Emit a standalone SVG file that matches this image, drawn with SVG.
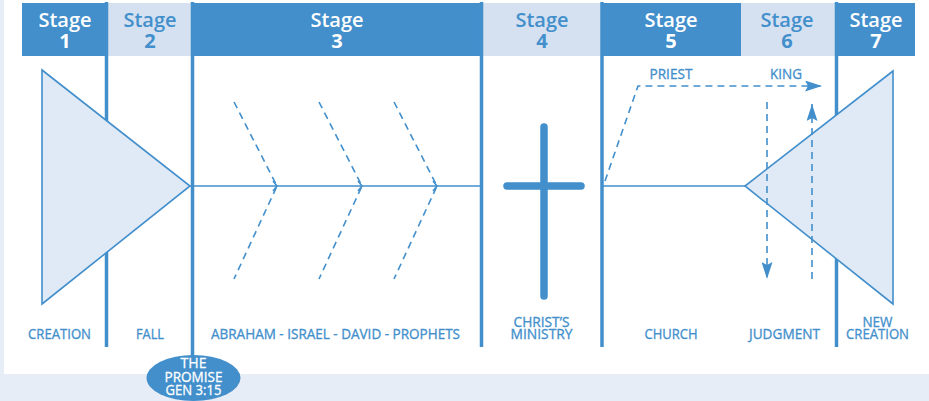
<svg xmlns="http://www.w3.org/2000/svg" width="929" height="401" viewBox="0 0 929 401">
<defs>
<style>
.dark{fill:#428fcc}
.light{fill:#d5e1f1}
.vl{stroke:#428fcc;stroke-width:3.5;fill:none}
.ln{stroke:#428fcc;stroke-width:1.6;fill:none}
.dash{stroke:#428fcc;stroke-width:1.6;fill:none;stroke-dasharray:7 5}
.tri{fill:#e0e9f6;stroke:#428fcc;stroke-width:1.6}
.hw{font-family:"Open Sans","Noto Sans","DejaVu Sans",sans-serif;font-weight:600;font-size:20px;fill:#ffffff;text-anchor:middle}
.hb{font-family:"Open Sans","Noto Sans","DejaVu Sans",sans-serif;font-weight:600;font-size:20px;fill:#428fcc;text-anchor:middle}
.num{font-weight:700}
.lab{font-family:"Open Sans","Noto Sans","DejaVu Sans",sans-serif;font-size:15px;fill:#428fcc;stroke:#428fcc;stroke-width:0.35;text-anchor:middle}
.ew{font-family:"Open Sans","Noto Sans","DejaVu Sans",sans-serif;font-size:15px;fill:#ffffff;stroke:#ffffff;stroke-width:0.3;text-anchor:middle}
</style>
<marker id="ah" viewBox="0 0 17 11" refX="17" refY="5.5" markerWidth="17" markerHeight="11" markerUnits="userSpaceOnUse" orient="auto">
<path d="M0,0 L17,5.5 L0,11 L3,5.5 Z" fill="#428fcc"/>
</marker>
</defs>
<rect x="0" y="0" width="929" height="401" fill="#e6edf7"/>
<rect x="4" y="0" width="925" height="374" fill="#ffffff"/>

<g id="headers">
<rect class="dark" x="22" y="3" width="85" height="53"/>
<rect class="light" x="107" y="3" width="85" height="53"/>
<rect class="dark" x="192" y="3" width="290" height="53"/>
<rect class="light" x="482" y="3" width="120" height="53"/>
<rect class="dark" x="602" y="3" width="139" height="53"/>
<rect class="light" x="741" y="3" width="96" height="53"/>
<rect class="dark" x="837" y="3" width="78" height="53"/>
</g>

<g id="stage-labels">
<text class="hw" x="65" y="27">Stage</text><text class="hw num" x="65" y="48">1</text>
<text class="hb" x="150" y="27">Stage</text><text class="hb num" x="150" y="48">2</text>
<text class="hw" x="337" y="27">Stage</text><text class="hw num" x="337" y="48">3</text>
<text class="hb" x="542" y="27">Stage</text><text class="hb num" x="542" y="48">4</text>
<text class="hw" x="671" y="27">Stage</text><text class="hw num" x="671" y="48">5</text>
<text class="hb" x="787" y="27">Stage</text><text class="hb num" x="787" y="48">6</text>
<text class="hw" x="876" y="27">Stage</text><text class="hw num" x="876" y="48">7</text>
</g>

<g id="dividers">
<line class="vl" x1="106.5" y1="2" x2="106.5" y2="347"/>
<line class="vl" x1="192.5" y1="2" x2="192.5" y2="360"/>
<line class="vl" x1="481.5" y1="2" x2="481.5" y2="347"/>
<line class="vl" x1="602" y1="2" x2="602" y2="347"/>
<line class="vl" x1="836.5" y1="2" x2="836.5" y2="347"/>
</g>

<g id="creation">
<polygon class="tri" points="42,70 190,186 42,304"/>
</g>

<g id="new-creation">
<polygon class="tri" points="893,71 745,186 893,304"/>
</g>

<g id="connectors">
<line class="ln" x1="190" y1="186" x2="481" y2="186"/>
<line class="ln" x1="602" y1="186" x2="745" y2="186"/>
<polyline class="dash" points="234,102 277,186 234,279"/>
<polyline class="dash" points="319,102 362,186 319,279"/>
<polyline class="dash" points="394,102 437,186 394,279"/>
<polyline class="ln" points="273,181 277,186 273,191"/>
<polyline class="ln" points="358,181 362,186 358,191"/>
<polyline class="ln" points="433,181 437,186 433,191"/>
<path class="dash" d="M605,181 L638,86 L822,86" marker-end="url(#ah)"/>
<line class="dash" x1="767" y1="102" x2="767" y2="279" marker-end="url(#ah)"/>
<line class="dash" x1="812" y1="279" x2="812" y2="104" marker-end="url(#ah)"/>
</g>

<g id="cross">
<line x1="544" y1="127" x2="544" y2="296" stroke="#428fcc" stroke-width="7.5" stroke-linecap="round"/>
<line x1="507" y1="186" x2="581" y2="186" stroke="#428fcc" stroke-width="7.5" stroke-linecap="round"/>
</g>

<g id="arrow-labels">
<text class="lab" x="671" y="79" textLength="43" lengthAdjust="spacingAndGlyphs">PRIEST</text>
<text class="lab" x="786" y="79" textLength="32" lengthAdjust="spacingAndGlyphs">KING</text>
</g>

<g id="bottom-labels">
<text class="lab" x="59.5" y="339" textLength="63" lengthAdjust="spacingAndGlyphs">CREATION</text>
<text class="lab" x="150" y="339" textLength="28" lengthAdjust="spacingAndGlyphs">FALL</text>
<text class="lab" x="335.5" y="339" textLength="249" lengthAdjust="spacingAndGlyphs">ABRAHAM - ISRAEL - DAVID - PROPHETS</text>
<text class="lab"><tspan x="541.5" y="327" textLength="56" lengthAdjust="spacingAndGlyphs">CHRIST’S</tspan><tspan x="541.5" y="339" textLength="62" lengthAdjust="spacingAndGlyphs">MINISTRY</tspan></text>
<text class="lab" x="671" y="339" textLength="53" lengthAdjust="spacingAndGlyphs">CHURCH</text>
<text class="lab" x="784.5" y="339" textLength="71" lengthAdjust="spacingAndGlyphs">JUDGMENT</text>
<text class="lab"><tspan x="877.5" y="327" textLength="30" lengthAdjust="spacingAndGlyphs">NEW</tspan><tspan x="877.5" y="339" textLength="63" lengthAdjust="spacingAndGlyphs">CREATION</tspan></text>
</g>

<g id="promise">
<ellipse cx="193.5" cy="378" rx="47" ry="23" fill="#428fcc"/>
<text class="ew"><tspan x="193.5" y="368" textLength="26" lengthAdjust="spacingAndGlyphs">THE</tspan><tspan x="193.5" y="381.5" textLength="58" lengthAdjust="spacingAndGlyphs">PROMISE</tspan><tspan x="193.5" y="395" textLength="56" lengthAdjust="spacingAndGlyphs">GEN 3:15</tspan></text>
</g>
</svg>
